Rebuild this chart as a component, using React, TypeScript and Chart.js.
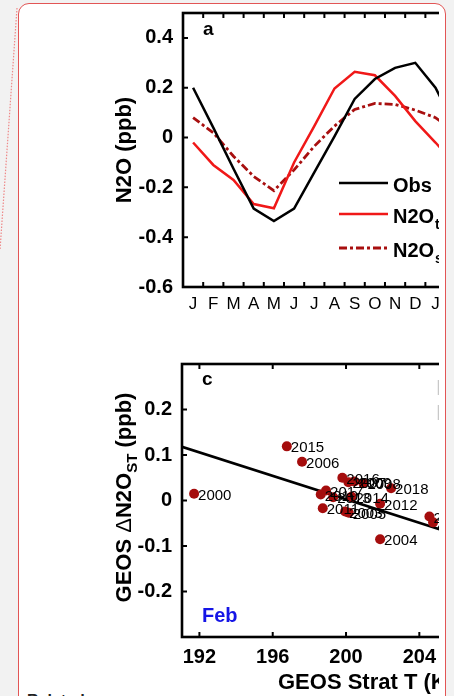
import React, { useEffect, useRef } from "react";
import { Chart, registerables } from "chart.js";

Chart.register(...registerables);

const FONT = "'Liberation Sans', Arial, Helvetica, sans-serif";

// ---------- Panel a : seasonal cycle ----------
const monthLabels = ["J", "F", "M", "A", "M", "J", "J", "A", "S", "O", "N", "D", "J", "F"];
const monthIndex = [1, 2, 3, 4, 5, 6, 7, 8, 9, 10, 11, 12, 13, 14];
const monthTickMarks = [1.5, 2.5, 3.5, 4.5, 5.5, 6.5, 7.5, 8.5, 9.5, 10.5, 11.5, 12.5, 13.5, 14.5, 15.5, 16.5, 17.5, 18.5];
const obsValues = [0.2, 0.04, -0.125, -0.285, -0.335, -0.285, -0.14, 0.005, 0.155, 0.235, 0.28, 0.3, 0.2, 0.04];
const tropValues = [-0.02, -0.11, -0.17, -0.267, -0.284, -0.1, 0.046, 0.197, 0.264, 0.25, 0.167, 0.066, -0.02, -0.11];
const stratValues = [0.08, 0.019, -0.075, -0.156, -0.213, -0.13, -0.035, 0.046, 0.113, 0.137, 0.133, 0.11, 0.08, 0.019];
const panelAYTicks = [-0.6, -0.4, -0.2, 0, 0.2, 0.4];
const legendNames = ["Obs", "N2O", "N2O"];
const legendSubs = ["", "trop", "strat"];

// ---------- Panel c : Feb scatter ----------
const years = ["2000", "2001", "2002", "2003", "2004", "2005", "2006", "2007", "2008", "2009", "2010", "2011", "2012", "2013", "2014", "2015", "2016", "2017", "2018"];
const stratT = [191.71, 204.55, 204.75, 199.95, 201.86, 200.15, 197.6, 200.13, 200.95, 200.45, 198.62, 198.73, 201.86, 199.3, 200.3, 196.77, 199.8, 198.91, 202.46];
const deltaN2O = [0.015, -0.035, -0.048, -0.024, -0.085, -0.027, 0.085, 0.04, 0.038, 0.042, 0.013, -0.017, -0.007, 0.007, 0.008, 0.119, 0.05, 0.022, 0.027];
const fitT = [191.05, 205.1];
const fitDeltaN2O = [0.118, -0.063];
const panelCXTicks = [192, 196, 200, 204, 208];
const panelCYTicks = [-0.2, -0.1, 0, 0.1, 0.2];

function drawFrame(chart: any, xMarks: number[], yMarks: number[]) {
  const { ctx, chartArea, scales } = chart;
  const { left, top, right, bottom } = chartArea;
  ctx.save();
  ctx.strokeStyle = "#000";
  ctx.lineWidth = 2;
  ctx.beginPath();
  for (const v of xMarks) {
    const p = scales.x.getPixelForValue(v);
    ctx.moveTo(p, bottom);
    ctx.lineTo(p, bottom - 5);
    ctx.moveTo(p, top);
    ctx.lineTo(p, top + 5);
  }
  for (const v of yMarks) {
    const p = scales.y.getPixelForValue(v);
    ctx.moveTo(left, p);
    ctx.lineTo(left + 5, p);
  }
  ctx.stroke();
  ctx.lineWidth = 2.6;
  ctx.strokeRect(left, top, right - left, bottom - top);
  ctx.restore();
}

const noPad = (s: any) => {
  s.paddingTop = 0;
  s.paddingBottom = 0;
  s.paddingLeft = 0;
  s.paddingRight = 0;
};

const panelAPlugin = {
  id: "panelA",
  afterDatasetsDraw(chart: any) {
    const { ctx, chartArea } = chart;
    drawFrame(chart, monthTickMarks, panelAYTicks);
    ctx.save();
    ctx.fillStyle = "#000";
    ctx.font = `bold 19px ${FONT}`;
    ctx.textBaseline = "middle";
    ctx.textAlign = "left";
    ctx.fillText("a", chartArea.left + 20, chartArea.top + 17);
    // legend
    const rowsY = [183, 214, 248];
    const x0 = 239;
    const x1 = 288;
    chart.data.datasets.forEach((ds: any, i: number) => {
      const y = rowsY[i];
      ctx.save();
      ctx.strokeStyle = ds.borderColor;
      ctx.lineWidth = ds.borderWidth;
      ctx.setLineDash(ds.borderDash || []);
      ctx.beginPath();
      ctx.moveTo(x0, y);
      ctx.lineTo(x1, y);
      ctx.stroke();
      ctx.restore();
      ctx.font = `bold 20px ${FONT}`;
      ctx.fillText(legendNames[i], x1 + 5, y + 3);
      if (legendSubs[i]) {
        const w = ctx.measureText(legendNames[i]).width;
        ctx.font = `bold 14px ${FONT}`;
        ctx.fillText(legendSubs[i], x1 + 5 + w + 1, y + 11);
      }
    });
    ctx.restore();
  },
};

const panelCPlugin = {
  id: "panelC",
  afterDatasetsDraw(chart: any) {
    const { ctx, chartArea, scales } = chart;
    ctx.save();
    ctx.fillStyle = "#000";
    ctx.font = `15px ${FONT}`;
    ctx.textBaseline = "middle";
    ctx.textAlign = "left";
    years.forEach((yr, i) => {
      const px = scales.x.getPixelForValue(stratT[i]);
      const py = scales.y.getPixelForValue(deltaN2O[i]);
      ctx.fillText(yr, px + 4, py + 2);
    });
    // clipped legend box edge at the right
    ctx.strokeStyle = "#c8c8c8";
    ctx.lineWidth = 1.5;
    ctx.beginPath();
    ctx.moveTo(338.5, chartArea.top + 16);
    ctx.lineTo(338.5, chartArea.top + 31);
    ctx.moveTo(338.5, chartArea.top + 41);
    ctx.lineTo(338.5, chartArea.top + 56);
    ctx.stroke();
    ctx.restore();
    drawFrame(chart, panelCXTicks, panelCYTicks);
    ctx.save();
    ctx.fillStyle = "#000";
    ctx.font = `bold 19px ${FONT}`;
    ctx.textBaseline = "middle";
    ctx.textAlign = "left";
    ctx.fillText("c", chartArea.left + 20, chartArea.top + 16);
    ctx.fillStyle = "#1515e6";
    ctx.font = `bold 20px ${FONT}`;
    ctx.fillText("Feb", chartArea.left + 20, chartArea.bottom - 21);
    // rotated y title with subscript
    const segs = [
      { t: "GEOS ", f: `bold 22px ${FONT}`, dy: 0 },
      { t: "\u0394", f: `22px ${FONT}`, dy: 0 },
      { t: "N2O", f: `bold 22px ${FONT}`, dy: 0 },
      { t: "ST", f: `bold 15px ${FONT}`, dy: 8 },
      { t: " (ppb)", f: `bold 22px ${FONT}`, dy: 0 },
    ];
    let total = 0;
    const widths = segs.map((s) => {
      ctx.font = s.f;
      const w = ctx.measureText(s.t).width;
      total += w;
      return w;
    });
    ctx.fillStyle = "#000";
    ctx.translate(25, (chartArea.top + chartArea.bottom) / 2 - 3);
    ctx.rotate(-Math.PI / 2);
    let x = -total / 2;
    segs.forEach((s, i) => {
      ctx.font = s.f;
      ctx.fillText(s.t, x, s.dy);
      x += widths[i];
    });
    ctx.restore();
  },
};

export default function App() {
  const refA = useRef<HTMLCanvasElement>(null);
  const refC = useRef<HTMLCanvasElement>(null);

  useEffect(() => {
    const tickFontBold = { family: FONT, size: 20, weight: "bold" as const };
    const chartA = new Chart(refA.current as HTMLCanvasElement, {
      type: "line",
      data: {
        datasets: [
          {
            label: "Obs",
            data: monthIndex.map((m, i) => ({ x: m, y: obsValues[i] })),
            borderColor: "#000000",
            borderWidth: 2.5,
            pointRadius: 0,
            tension: 0,
          },
          {
            label: "N2O trop",
            data: monthIndex.map((m, i) => ({ x: m, y: tropValues[i] })),
            borderColor: "#f01818",
            borderWidth: 2.5,
            pointRadius: 0,
            tension: 0,
          },
          {
            label: "N2O strat",
            data: monthIndex.map((m, i) => ({ x: m, y: stratValues[i] })),
            borderColor: "#a80f0f",
            borderWidth: 2.8,
            borderDash: [8, 3, 3, 3],
            pointRadius: 0,
            tension: 0,
          },
        ],
      },
      options: {
        animation: false,
        responsive: false,
        devicePixelRatio: 1,
        layout: { padding: { left: 0, top: 13, right: 10, bottom: 13 } },
        plugins: { legend: { display: false }, tooltip: { enabled: false } },
        scales: {
          x: {
            type: "linear",
            min: 0.5,
            max: 18.67,
            grid: { display: false, drawTicks: false },
            border: { display: false },
            afterBuildTicks: (s: any) => {
              s.ticks = monthIndex.map((v) => ({ value: v }));
            },
            afterFit: (s: any) => {
              s.height = 30;
              noPad(s);
            },
            ticks: {
              autoSkip: false,
              maxRotation: 0,
              padding: 7,
              color: "#000",
              font: { family: FONT, size: 17 },
              callback: (_v: any, i: number) => monthLabels[i],
            },
          },
          y: {
            type: "linear",
            min: -0.6,
            max: 0.5,
            grid: { display: false, drawTicks: false },
            border: { display: false },
            afterBuildTicks: (s: any) => {
              s.ticks = panelAYTicks.map((v) => ({ value: v }));
            },
            afterFit: (s: any) => {
              s.width = 83;
              noPad(s);
            },
            ticks: {
              padding: 10,
              color: "#000",
              font: tickFontBold,
              callback: (v: any) => String(v),
            },
            title: {
              display: true,
              text: "N2O (ppb)",
              color: "#000",
              font: { family: FONT, size: 22, weight: "bold" },
              padding: { top: 12, bottom: 0 },
            },
          },
        },
      },
      plugins: [panelAPlugin],
    });

    const chartC = new Chart(refC.current as HTMLCanvasElement, {
      type: "scatter",
      data: {
        datasets: [
          {
            type: "scatter",
            label: "Feb",
            data: stratT.map((t, i) => ({ x: t, y: deltaN2O[i] })),
            backgroundColor: "#a50d0d",
            borderColor: "#a50d0d",
            borderWidth: 0,
            pointRadius: 5,
          },
          {
            type: "line",
            label: "fit",
            data: fitT.map((t, i) => ({ x: t, y: fitDeltaN2O[i] })),
            borderColor: "#000",
            borderWidth: 2.6,
            pointRadius: 0,
            showLine: true,
          } as any,
        ],
      },
      options: {
        animation: false,
        responsive: false,
        devicePixelRatio: 1,
        layout: { padding: { left: 0, top: 14, right: 10, bottom: 0 } },
        plugins: { legend: { display: false }, tooltip: { enabled: false } },
        scales: {
          x: {
            type: "linear",
            min: 191.05,
            max: 211.13,
            grid: { display: false, drawTicks: false },
            border: { display: false },
            afterBuildTicks: (s: any) => {
              s.ticks = panelCXTicks.map((v) => ({ value: v }));
            },
            afterFit: (s: any) => {
              s.height = 59;
              noPad(s);
            },
            ticks: {
              autoSkip: false,
              maxRotation: 0,
              padding: 8,
              color: "#000",
              font: tickFontBold,
              callback: (v: any) => String(v),
            },
            title: {
              display: true,
              text: "GEOS Strat T (K)",
              color: "#000",
              font: { family: FONT, size: 22, weight: "bold" },
              padding: { top: 0, bottom: 0 },
            },
          },
          y: {
            type: "linear",
            min: -0.3,
            max: 0.3,
            grid: { display: false, drawTicks: false },
            border: { display: false },
            afterBuildTicks: (s: any) => {
              s.ticks = panelCYTicks.map((v) => ({ value: v }));
            },
            afterFit: (s: any) => {
              s.width = 82;
              noPad(s);
            },
            ticks: {
              padding: 10,
              color: "#000",
              font: tickFontBold,
              callback: (v: any) => String(v),
            },
          },
        },
      },
      plugins: [panelCPlugin],
    });

    return () => {
      chartA.destroy();
      chartC.destroy();
    };
  }, []);

  return (
    <div
      style={{
        position: "fixed",
        left: 0,
        top: 0,
        width: 454,
        height: 696,
        overflow: "hidden",
        background: "#f2f2f2",
        fontFamily: FONT,
      }}
    >
      <svg width={40} height={300} style={{ position: "absolute", left: 0, top: 0 }}>
        <line x1={17} y1={8} x2={0} y2={250} stroke="#e88" strokeWidth={1.2} strokeDasharray="1.5 1.5" />
      </svg>
      <div
        style={{
          position: "absolute",
          left: 18,
          top: 3,
          width: 428,
          height: 760,
          background: "#ffffff",
          border: "1.5px solid #e25555",
          borderRadius: 11,
          boxSizing: "border-box",
        }}
      />
      <div style={{ position: "absolute", left: 0, top: 0, width: 439, height: 696, overflow: "hidden" }}>
        <canvas ref={refA} width={460} height={330} style={{ position: "absolute", left: 100, top: 0 }} />
        <canvas ref={refC} width={460} height={346} style={{ position: "absolute", left: 100, top: 350 }} />
      </div>
      <div
        style={{
          position: "absolute",
          left: 27,
          top: 692,
          fontSize: 16,
          fontWeight: "bold",
          color: "#222",
          whiteSpace: "nowrap",
        }}
      >
        Related
      </div>
    </div>
  );
}
